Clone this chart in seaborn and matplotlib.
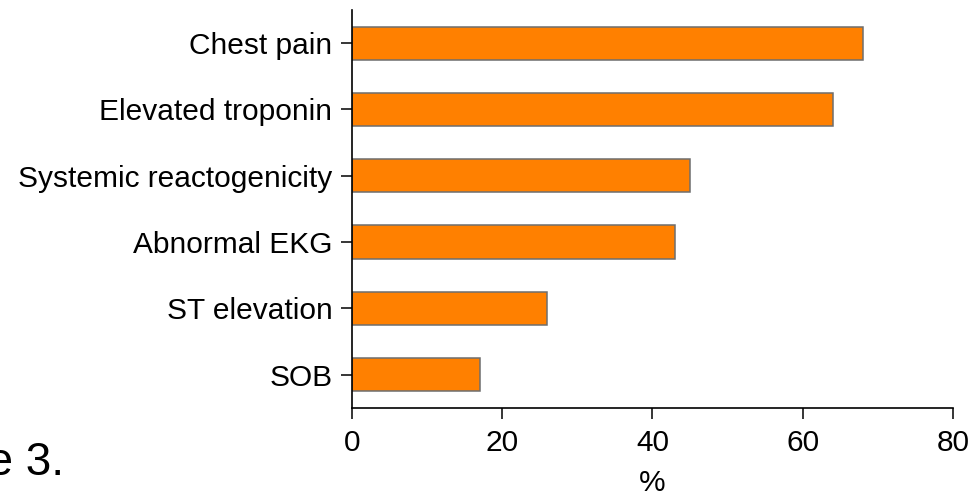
import matplotlib
matplotlib.use("Agg")
import matplotlib.pyplot as plt
import pandas as pd
import seaborn as sns

# data
symptoms = [
    "Chest pain",
    "Elevated troponin",
    "Systemic reactogenicity",
    "Abnormal EKG",
    "ST elevation",
    "SOB",
]
percent = [68, 64, 45, 43, 26, 17]
x_ticks = [0, 20, 40, 60, 80]

df = pd.DataFrame({"symptom": symptoms, "pct": percent})

sns.set_style("ticks")
plt.rcParams["font.family"] = ["Liberation Sans", "DejaVu Sans"]
plt.rcParams["text.color"] = "black"
plt.rcParams["axes.labelcolor"] = "black"
plt.rcParams["xtick.color"] = "black"
plt.rcParams["ytick.color"] = "black"

fig = plt.figure(figsize=(9.77, 4.98), dpi=100)
ax = fig.add_axes([0.360, 0.181, 0.6155, 0.799])

sns.barplot(
    data=df,
    x="pct",
    y="symptom",
    orient="h",
    color="#FF8000",
    saturation=1,
    width=0.5,
    edgecolor="#6e6e6e",
    linewidth=1.1,
    ax=ax,
)

ax.set_xlim(0, 80)
ax.set_ylim(5.5, -0.5)
ax.set_xticks(x_ticks)
ax.set_xlabel("%", fontsize=21.5, labelpad=9)
ax.set_ylabel("")
ax.tick_params(axis="both", labelsize=21.5, width=1.1, length=8)
ax.tick_params(axis="y", pad=6)
ax.tick_params(axis="x", pad=7)
for side in ["top", "right"]:
    ax.spines[side].set_visible(False)
for side in ["left", "bottom"]:
    ax.spines[side].set_linewidth(1.2)
    ax.spines[side].set_color("black")

# cropped caption from the source slide
fig.text(64 / 977, 1 - 475 / 498, "Figure 3.", fontsize=33, ha="right", va="baseline")

fig.savefig("out.png", dpi=100)
